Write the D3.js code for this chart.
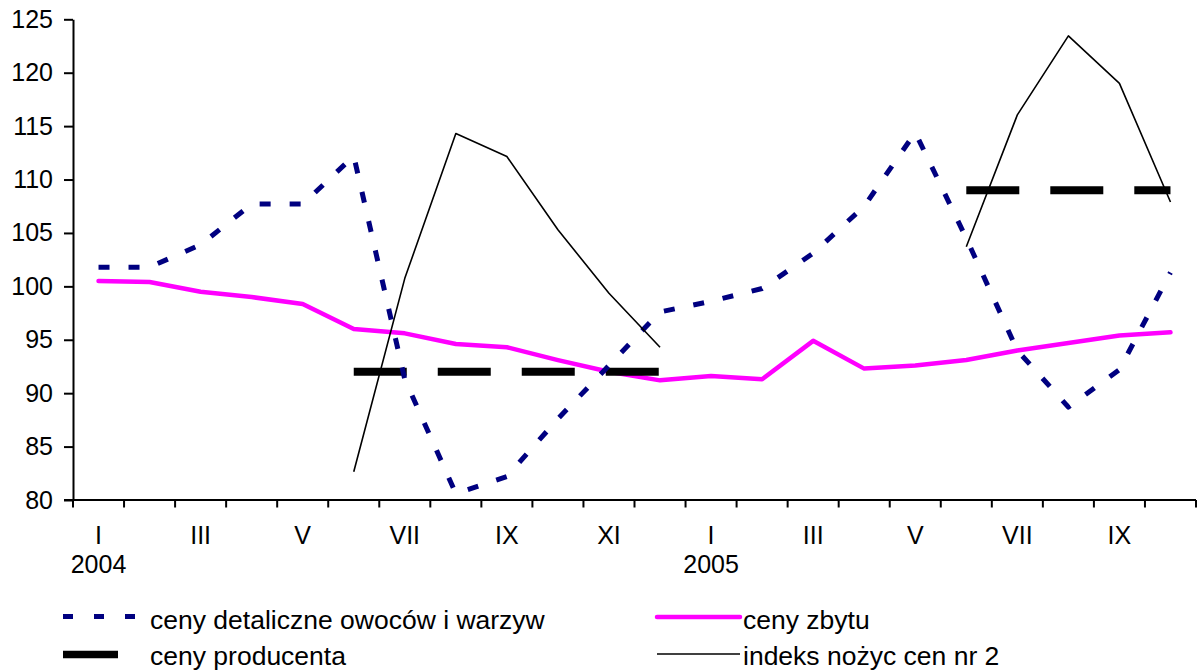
<!DOCTYPE html>
<html>
<head>
<meta charset="utf-8">
<script src="https://cdn.jsdelivr.net/npm/d3@7"></script>
<style>
  html, body { margin: 0; padding: 0; background: #fff; }
  svg { display: block; }
  text { font-family: "Liberation Sans", Arial, sans-serif; fill: #000; }
</style>
</head>
<body>
<svg id="chart" width="1199" height="670"></svg>
<script>
// ---- data ----
const months = ["I","II","III","IV","V","VI","VII","VIII","IX","X","XI","XII",
                "I","II","III","IV","V","VI","VII","VIII","IX","X"];
const years = ["2004","","","","","","","","","","","",
               "2005","","","","","","","","",""];
const yTicks = [80, 85, 90, 95, 100, 105, 110, 115, 120, 125];

const retailFruitVeg = [101.8, 101.8, 103.9, 107.7, 107.7, 112.2, 91.3, 80.6, 82.2, 87.6, 92.6, 97.6,
                        98.6, 99.8, 103.1, 107.5, 114.4, 104.5, 94.0, 88.7, 92.2, 101.3];
const salesPrices = [100.5, 100.4, 99.5, 99.0, 98.35, 96.0, 95.6, 94.6, 94.3, 93.1, 92.0, 91.2,
                     91.6, 91.3, 94.9, 92.3, 92.6, 93.1, 94.0, 94.7, 95.4, 95.7];
const producerPrices = [null, null, null, null, null, 92, 92, 92, 92, 92, 92, 92,
                        null, null, null, null, null, 109, 109, 109, 109, 109];
const scissorsIndex = [null, null, null, null, null, 82.65, 100.75, 114.3, 112.15, 105.3, 99.35, 94.3,
                       null, null, null, null, null, 103.7, 116.05, 123.45, 119.0, 107.9];

const legendLabels = ["ceny detaliczne owoców i warzyw", "ceny zbytu", "ceny producenta", "indeks nożyc cen nr 2"];

// ---- layout ----
const svg = d3.select("#chart");
const plotL = 73, plotR = 1196, plotT = 19.3, plotB = 500;

const x = d3.scaleBand().domain(d3.range(months.length)).range([plotL, plotR]).paddingInner(0).paddingOuter(0);
const xc = i => x(i) + x.bandwidth() / 2;
const y = d3.scaleLinear().domain([80, 125]).range([plotB, plotT]);

// Y axis
const yAxis = svg.append("g").attr("transform", `translate(${plotL},0)`)
  .call(d3.axisLeft(y).tickValues(yTicks).tickSize(9).tickPadding(11).tickSizeOuter(0));
yAxis.select(".domain").attr("stroke", "#000").attr("stroke-width", 2);
yAxis.selectAll(".tick line").attr("stroke", "#000").attr("stroke-width", 2);
yAxis.selectAll(".tick text").attr("font-size", 25).attr("font-family", "Liberation Sans, Arial, sans-serif").attr("fill", "#000");

// X axis (ticks on band boundaries)
const xg = svg.append("g");
xg.append("line").attr("x1", plotL - 9).attr("x2", plotR).attr("y1", plotB).attr("y2", plotB)
  .attr("stroke", "#000").attr("stroke-width", 2);
const edges = d3.range(months.length + 1);
xg.selectAll("line.tk").data(edges).join("line").attr("class", "tk")
  .attr("x1", d => d < months.length ? x(d) : plotR)
  .attr("x2", d => d < months.length ? x(d) : plotR)
  .attr("y1", plotB).attr("y2", plotB + 7.5)
  .attr("stroke", "#000").attr("stroke-width", 2);
xg.selectAll("text.m").data(months.map((m, i) => ({m, i})).filter(d => d.i % 2 === 0))
  .join("text").attr("class", "m")
  .attr("x", d => xc(d.i)).attr("y", 543.5).attr("text-anchor", "middle").attr("font-size", 25)
  .text(d => d.m);
xg.selectAll("text.yr").data(years.map((t, i) => ({t, i})).filter(d => d.t))
  .join("text").attr("class", "yr")
  .attr("x", d => xc(d.i)).attr("y", 573).attr("text-anchor", "middle").attr("font-size", 25)
  .text(d => d.t);

// ---- series ----
const line = d3.line().defined(d => d.v != null).x(d => xc(d.i)).y(d => y(d.v));

function segments(arr) {
  const segs = []; let cur = [];
  arr.forEach((v, i) => {
    if (v == null) { if (cur.length) segs.push(cur); cur = []; }
    else cur.push({i, v});
  });
  if (cur.length) segs.push(cur);
  return segs;
}

function drawSeries(arr, style) {
  segments(arr).forEach(seg => {
    svg.append("path").datum(seg).attr("d", line).attr("fill", "none")
      .attr("stroke", style.color).attr("stroke-width", style.width)
      .attr("stroke-dasharray", style.dash || null)
      .attr("stroke-linejoin", "round").attr("stroke-linecap", style.cap || "butt");
  });
}

drawSeries(salesPrices, {color: "#FF00FF", width: 4.5, cap: "round"});
drawSeries(producerPrices, {color: "#000", width: 8, dash: "53,31"});
drawSeries(retailFruitVeg, {color: "#000080", width: 5, dash: "11,19"});
drawSeries(scissorsIndex, {color: "#000", width: 1.6});

// ---- legend ----
const lg = svg.append("g");
lg.append("line").attr("x1", 63).attr("x2", 136).attr("y1", 616.5).attr("y2", 616.5)
  .attr("stroke", "#000080").attr("stroke-width", 5).attr("stroke-dasharray", "10,21");
lg.append("line").attr("x1", 63).attr("x2", 118).attr("y1", 654.5).attr("y2", 654.5)
  .attr("stroke", "#000").attr("stroke-width", 7.5);
lg.append("line").attr("x1", 657).attr("x2", 740).attr("y1", 617).attr("y2", 617)
  .attr("stroke", "#FF00FF").attr("stroke-width", 4.5).attr("stroke-linecap", "round");
lg.append("line").attr("x1", 657).attr("x2", 740).attr("y1", 654).attr("y2", 654)
  .attr("stroke", "#000").attr("stroke-width", 1.6);
const legPos = [[150, 628.5], [743, 628.5], [150, 665], [743, 665]];
lg.selectAll("text").data(legendLabels).join("text")
  .attr("x", (d, i) => legPos[i][0]).attr("y", (d, i) => legPos[i][1])
  .attr("font-size", 26.5).text(d => d);
</script>
</body>
</html>
